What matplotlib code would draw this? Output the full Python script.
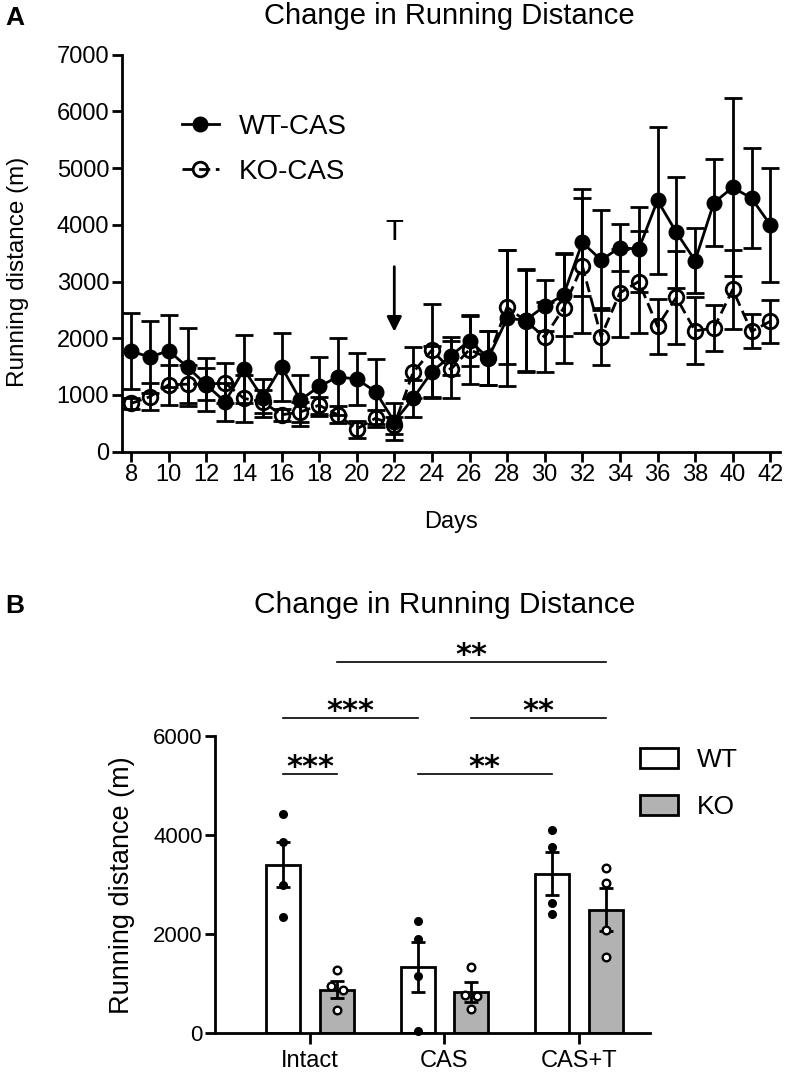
import numpy as np
import matplotlib
matplotlib.use("Agg")
import matplotlib.pyplot as plt
from matplotlib.lines import Line2D
from matplotlib.patches import Patch

plt.rcParams["font.family"] = ["Liberation Sans", "DejaVu Sans"]

# ---- Panel A: running distance over days (mean +/- SEM)
days = list(range(8, 43))
wt_cas = [1770, 1670, 1780, 1490, 1180, 880, 1450, 950, 1500, 910, 1150, 1320,
          1280, 1060, 530, 940, 1410, 1690, 1960, 1650, 2350, 2320, 2570, 2760,
          3690, 3380, 3600, 3570, 4430, 3870, 3370, 4390, 4660, 4470, 4000]
wt_cas_sem = [670, 630, 635, 690, 470, 330, 600, 340, 600, 450, 520, 680,
              460, 570, 330, 330, 460, 340, 450, 470, 1200, 900, 450, 720,
              940, 890, 420, 750, 1300, 980, 570, 770, 1570, 880, 1000]
ko_cas = [850, 970, 1180, 1190, 1190, 1210, 940, 880, 650, 700, 820, 650,
          400, 590, 470, 1400, 1790, 1450, 1800, 1650, 2550, 2300, 2020, 2530,
          3280, 2030, 2800, 3000, 2210, 2720, 2130, 2180, 2860, 2120, 2300]
ko_cas_sem = [100, 240, 350, 340, 280, 360, 410, 200, 100, 180, 150, 150,
              150, 150, 150, 450, 820, 500, 600, 470, 1000, 900, 620, 970,
              1190, 500, 770, 900, 480, 820, 590, 400, 690, 300, 380]

# ---- Panel B: group bars
groups = ["Intact", "CAS", "CAS+T"]
wt_pts = [[4420, 3860, 2990, 2350], [2270, 1900, 1160, 50], [4090, 3760, 2630, 2410]]
ko_pts = [[1280, 950, 870, 470], [1340, 770, 760, 500], [3340, 3040, 2080, 1530]]
wt_mean = [3400, 1340, 3220]
ko_mean = [880, 840, 2490]
wt_sem = [450, 510, 430]
ko_sem = [170, 200, 430]
ko_jitter = [[0, -0.045, 0.045, 0], [0, -0.05, 0.045, 0], [0, 0, 0, 0]]

# significance brackets: (x1, x2, y, label)
sig = [(0.2, 2.2, 7480, "**"), (-0.2, 0.8, 6360, "***"), (1.2, 2.2, 6360, "**"),
       (-0.2, 0.2, 5230, "***"), (0.8, 1.8, 5230, "**")]

W, H = 785, 1077
fig = plt.figure(figsize=(W / 100, H / 100), dpi=100)
lw = 2.0

# ================= Panel A =================
axA = fig.add_axes([121.7 / W, 1 - 451.7 / H, 658 / W, 397 / H])
axA.errorbar(days, ko_cas, yerr=ko_cas_sem, fmt="o", ls=(0, (4, 2)), color="k",
             mfc="none", mec="k", mew=lw, ms=10.5, lw=lw, elinewidth=lw,
             capsize=6.5, capthick=lw, zorder=2)
axA.errorbar(days, wt_cas, yerr=wt_cas_sem, fmt="o-", color="k", ms=10.5, lw=lw,
             elinewidth=lw, capsize=6.5, capthick=lw, zorder=3)
axA.set_xlim(7.5, 42.5)
axA.set_ylim(0, 7000)
axA.set_xticks(range(8, 43, 2))
axA.set_yticks(range(0, 7001, 1000))
for s in ["top", "right"]:
    axA.spines[s].set_visible(False)
for s in ["left", "bottom"]:
    axA.spines[s].set_linewidth(lw)
axA.tick_params(width=lw, length=7, labelsize=17, pad=2)

fig.text(451 / W, 1 - 522 / H, "Days", ha="center", va="center", fontsize=17)
fig.text(18 / W, 1 - 272 / H, "Running distance (m)", ha="center", va="center",
         rotation=90, fontsize=17.5)

# T arrow
axA.annotate("", xy=(22, 2116), xytext=(22, 3263),
             arrowprops=dict(arrowstyle="-|>", lw=lw, color="k", mutation_scale=22,
                             shrinkA=0, shrinkB=0))
axA.text(22, 3880, "T", ha="center", va="center", fontsize=21)

handlesA = [Line2D([], [], color="k", marker="o", ms=10.5, lw=lw),
            Line2D([], [], color="k", marker="o", ms=10.5, lw=lw, mfc="none",
                   mew=lw, ls=(0, (4, 2)))]
axA.legend(handlesA, ["WT-CAS", "KO-CAS"], loc="upper left", frameon=False,
           fontsize=20, handlelength=1.33, handletextpad=0.72, labelspacing=0.67,
           borderpad=0, borderaxespad=0,
           bbox_to_anchor=(181.7 / W, 1 - 114 / H), bbox_transform=fig.transFigure)

fig.text(449 / W, 1 - 16 / H, "Change in Running Distance", ha="center", va="center",
         fontsize=21)
fig.text(5 / W, 1 - 18 / H, "A", ha="left", va="center", fontsize=19, weight="bold")

# ================= Panel B =================
axB = fig.add_axes([215 / W, 1 - 1033.3 / H, 435 / W, 396.8 / H])
x = np.arange(len(groups))
off, bw = 0.2, 0.253
axB.bar(x - off, wt_mean, bw, color="white", edgecolor="k", lw=lw, zorder=1)
axB.bar(x + off, ko_mean, bw, color="#b2b2b2", edgecolor="k", lw=lw, zorder=1)
axB.errorbar(x - off, wt_mean, yerr=wt_sem, fmt="none", ecolor="k", elinewidth=lw,
             capsize=5, capthick=lw, zorder=3)
axB.errorbar(x + off, ko_mean, yerr=ko_sem, fmt="none", ecolor="k", elinewidth=lw,
             capsize=5, capthick=lw, zorder=3)
for i in range(len(groups)):
    axB.plot([x[i] - off] * len(wt_pts[i]), wt_pts[i], "o", color="k", ms=5.5,
             zorder=4, clip_on=False)
    axB.plot(x[i] + off + np.array(ko_jitter[i]), ko_pts[i], "o", mfc="white",
             mec="k", mew=1.7, ms=5.5, zorder=4)

for x1, x2, y, lab in sig:
    axB.plot([x1, x2], [y, y], color="k", lw=1.2, clip_on=False)
    axB.text((x1 + x2) / 2, y - 40, lab, ha="center", va="baseline", fontsize=22,
             weight="bold", family="DejaVu Sans")

axB.set_xlim(-0.707, 2.53)
axB.set_ylim(0, 8000)
axB.set_xticks(x)
axB.set_xticklabels(groups)
axB.set_yticks([0, 2000, 4000, 6000])
axB.spines["left"].set_bounds(0, 6000)
for s in ["top", "right"]:
    axB.spines[s].set_visible(False)
for s in ["left", "bottom"]:
    axB.spines[s].set_linewidth(lw)
axB.tick_params(axis="y", width=lw, length=7, labelsize=16, pad=2)
axB.tick_params(axis="x", width=lw, length=8, labelsize=17, pad=4)
fig.text(122 / W, 1 - 885 / H, "Running distance (m)", ha="center", va="center",
         rotation=90, fontsize=19.5)

handlesB = [Patch(facecolor="white", edgecolor="k", lw=lw),
            Patch(facecolor="#b2b2b2", edgecolor="k", lw=lw)]
axB.legend(handlesB, ["WT", "KO"], loc="upper left", frameon=False, fontsize=19,
           handlelength=1.45, handleheight=0.8, handletextpad=0.7, labelspacing=0.85,
           borderpad=0, borderaxespad=0,
           bbox_to_anchor=(640 / W, 1 - 748 / H), bbox_transform=fig.transFigure)

fig.text(445 / W, 1 - 605 / H, "Change in Running Distance", ha="center", va="center",
         fontsize=21.5)
fig.text(5 / W, 1 - 606 / H, "B", ha="left", va="center", fontsize=19, weight="bold")

fig.savefig("out.png", dpi=100)
